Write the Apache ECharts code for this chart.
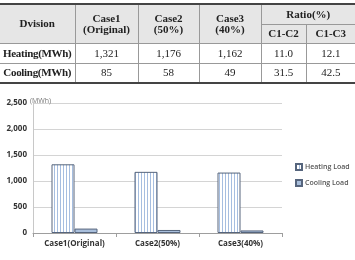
<!DOCTYPE html>
<html>
<head>
<meta charset="utf-8">
<script src="https://cdn.jsdelivr.net/npm/echarts@6/dist/echarts.min.js"></script>
<style>
html, body { margin: 0; padding: 0; background: #fff; }
.page { position: relative; width: 355px; height: 260px; overflow: hidden; }
#chart { position: absolute; left: 0; top: 0; width: 355px; height: 260px; }
table.tbl {
    position: absolute; left: 0; top: 3px; width: 355px;
    border-collapse: collapse; table-layout: fixed;
    font-family: "Liberation Serif", "DejaVu Serif", serif;
    font-size: 11px; color: #222; text-align: center;
    border-top: 2px solid #444; border-bottom: 2px solid #444;
}
.tbl td, .tbl th { border: 1px solid #999; padding: 0; line-height: 11px; white-space: nowrap; }
.tbl tr > :first-child { border-left: none; }
.tbl tr > :last-child { border-right: none; }
.tbl th { background: #e6e6e6; font-weight: bold; }
.tbl td.lab { font-weight: bold; letter-spacing: -0.3px; }
.tbl tr.h1 { height: 20px; }
.tbl tr.h2 { height: 19px; }
.tbl tr.d { height: 20px; }
</style>
</head>
<body>
<div class="page">
    <div id="chart"></div>
    <table class="tbl" id="tbl"></table>
</div>
<script>
// table data
const rowLabels = ['Heating(MWh)', 'Cooling(MWh)'];
const caseHeads = [['Case1', '(Original)'], ['Case2', '(50%)'], ['Case3', '(40%)']];
const ratioHeads = ['C1-C2', 'C1-C3'];
const heatingRow = ['1,321', '1,176', '1,162', '11.0', '12.1'];
const coolingRow = ['85', '58', '49', '31.5', '42.5'];

// chart data
const categories = ['Case1(Original)', 'Case2(50%)', 'Case3(40%)'];
const heatingLoad = [1321, 1176, 1162];
const coolingLoad = [85, 58, 49];

// build table
const colW = [75, 63, 61, 62, 45, 49];
let html = '<colgroup>' + colW.map(w => '<col style="width:' + w + 'px">').join('') + '</colgroup>';
html += '<tr class="h1"><th rowspan="2">Dvision</th>';
caseHeads.forEach(c => { html += '<th rowspan="2">' + c[0] + '<br>' + c[1] + '</th>'; });
html += '<th colspan="2">Ratio(%)</th></tr>';
html += '<tr class="h2">' + ratioHeads.map(r => '<th>' + r + '</th>').join('') + '</tr>';
[heatingRow, coolingRow].forEach((row, i) => {
    html += '<tr class="d"><td class="lab">' + rowLabels[i] + '</td>' + row.map(v => '<td>' + v + '</td>').join('') + '</tr>';
});
document.getElementById('tbl').innerHTML = html;

// striped fill for heating bars
const stripe = document.createElement('canvas');
stripe.width = 3;
stripe.height = 4;
const sctx = stripe.getContext('2d');
sctx.fillStyle = '#ffffff';
sctx.fillRect(0, 0, 3, 4);
sctx.fillStyle = '#a6bee0';
sctx.fillRect(0, 0, 1, 4);

let myChart = echarts.init(document.getElementById('chart'));
const labelFont = { fontFamily: 'Open Sans', fontWeight: 'bold', fontSize: 8, color: '#333' };
let option = {
    animation: false,
    title: {
        text: '(MWh)',
        left: 30,
        top: 97,
        padding: 0,
        textStyle: { fontFamily: 'Open Sans', fontWeight: 'normal', fontSize: 7, color: '#777' }
    },
    legend: {
        orient: 'vertical',
        left: 295,
        top: 163,
        padding: 0,
        itemWidth: 6,
        itemHeight: 6,
        itemGap: 8,
        icon: 'rect',
        textStyle: { fontFamily: 'Open Sans', fontWeight: 600, fontSize: 7, color: '#555', padding: [0, 0, 0, -2] },
        data: ['Heating Load', 'Cooling Load']
    },
    grid: { left: 33, right: 73, top: 103, bottom: 27 },
    xAxis: {
        type: 'category',
        data: categories,
        axisLine: { lineStyle: { color: '#9e9e9e' } },
        axisTick: { show: true, length: 4, lineStyle: { color: '#9e9e9e' } },
        axisLabel: Object.assign({ margin: 7, interval: 0 }, labelFont)
    },
    yAxis: {
        type: 'value',
        min: 0,
        max: 2500,
        interval: 500,
        axisLine: { show: true, lineStyle: { color: '#c8c8c8' } },
        axisTick: { show: false },
        splitLine: { lineStyle: { color: '#d4d4d4' } },
        axisLabel: Object.assign({
            margin: 6,
            formatter: v => v.toLocaleString('en-US')
        }, labelFont)
    },
    series: [
        {
            name: 'Heating Load',
            type: 'bar',
            data: heatingLoad,
            barWidth: 23,
            barGap: '0%',
            itemStyle: {
                color: { image: stripe, repeat: 'repeat' },
                borderColor: '#56657d',
                borderWidth: 1
            }
        },
        {
            name: 'Cooling Load',
            type: 'bar',
            data: coolingLoad,
            barWidth: 23,
            barGap: '0%',
            itemStyle: {
                color: '#a9bfdc',
                borderColor: '#56657d',
                borderWidth: 1
            }
        }
    ]
};
myChart.setOption(option);
</script>
</body>
</html>
